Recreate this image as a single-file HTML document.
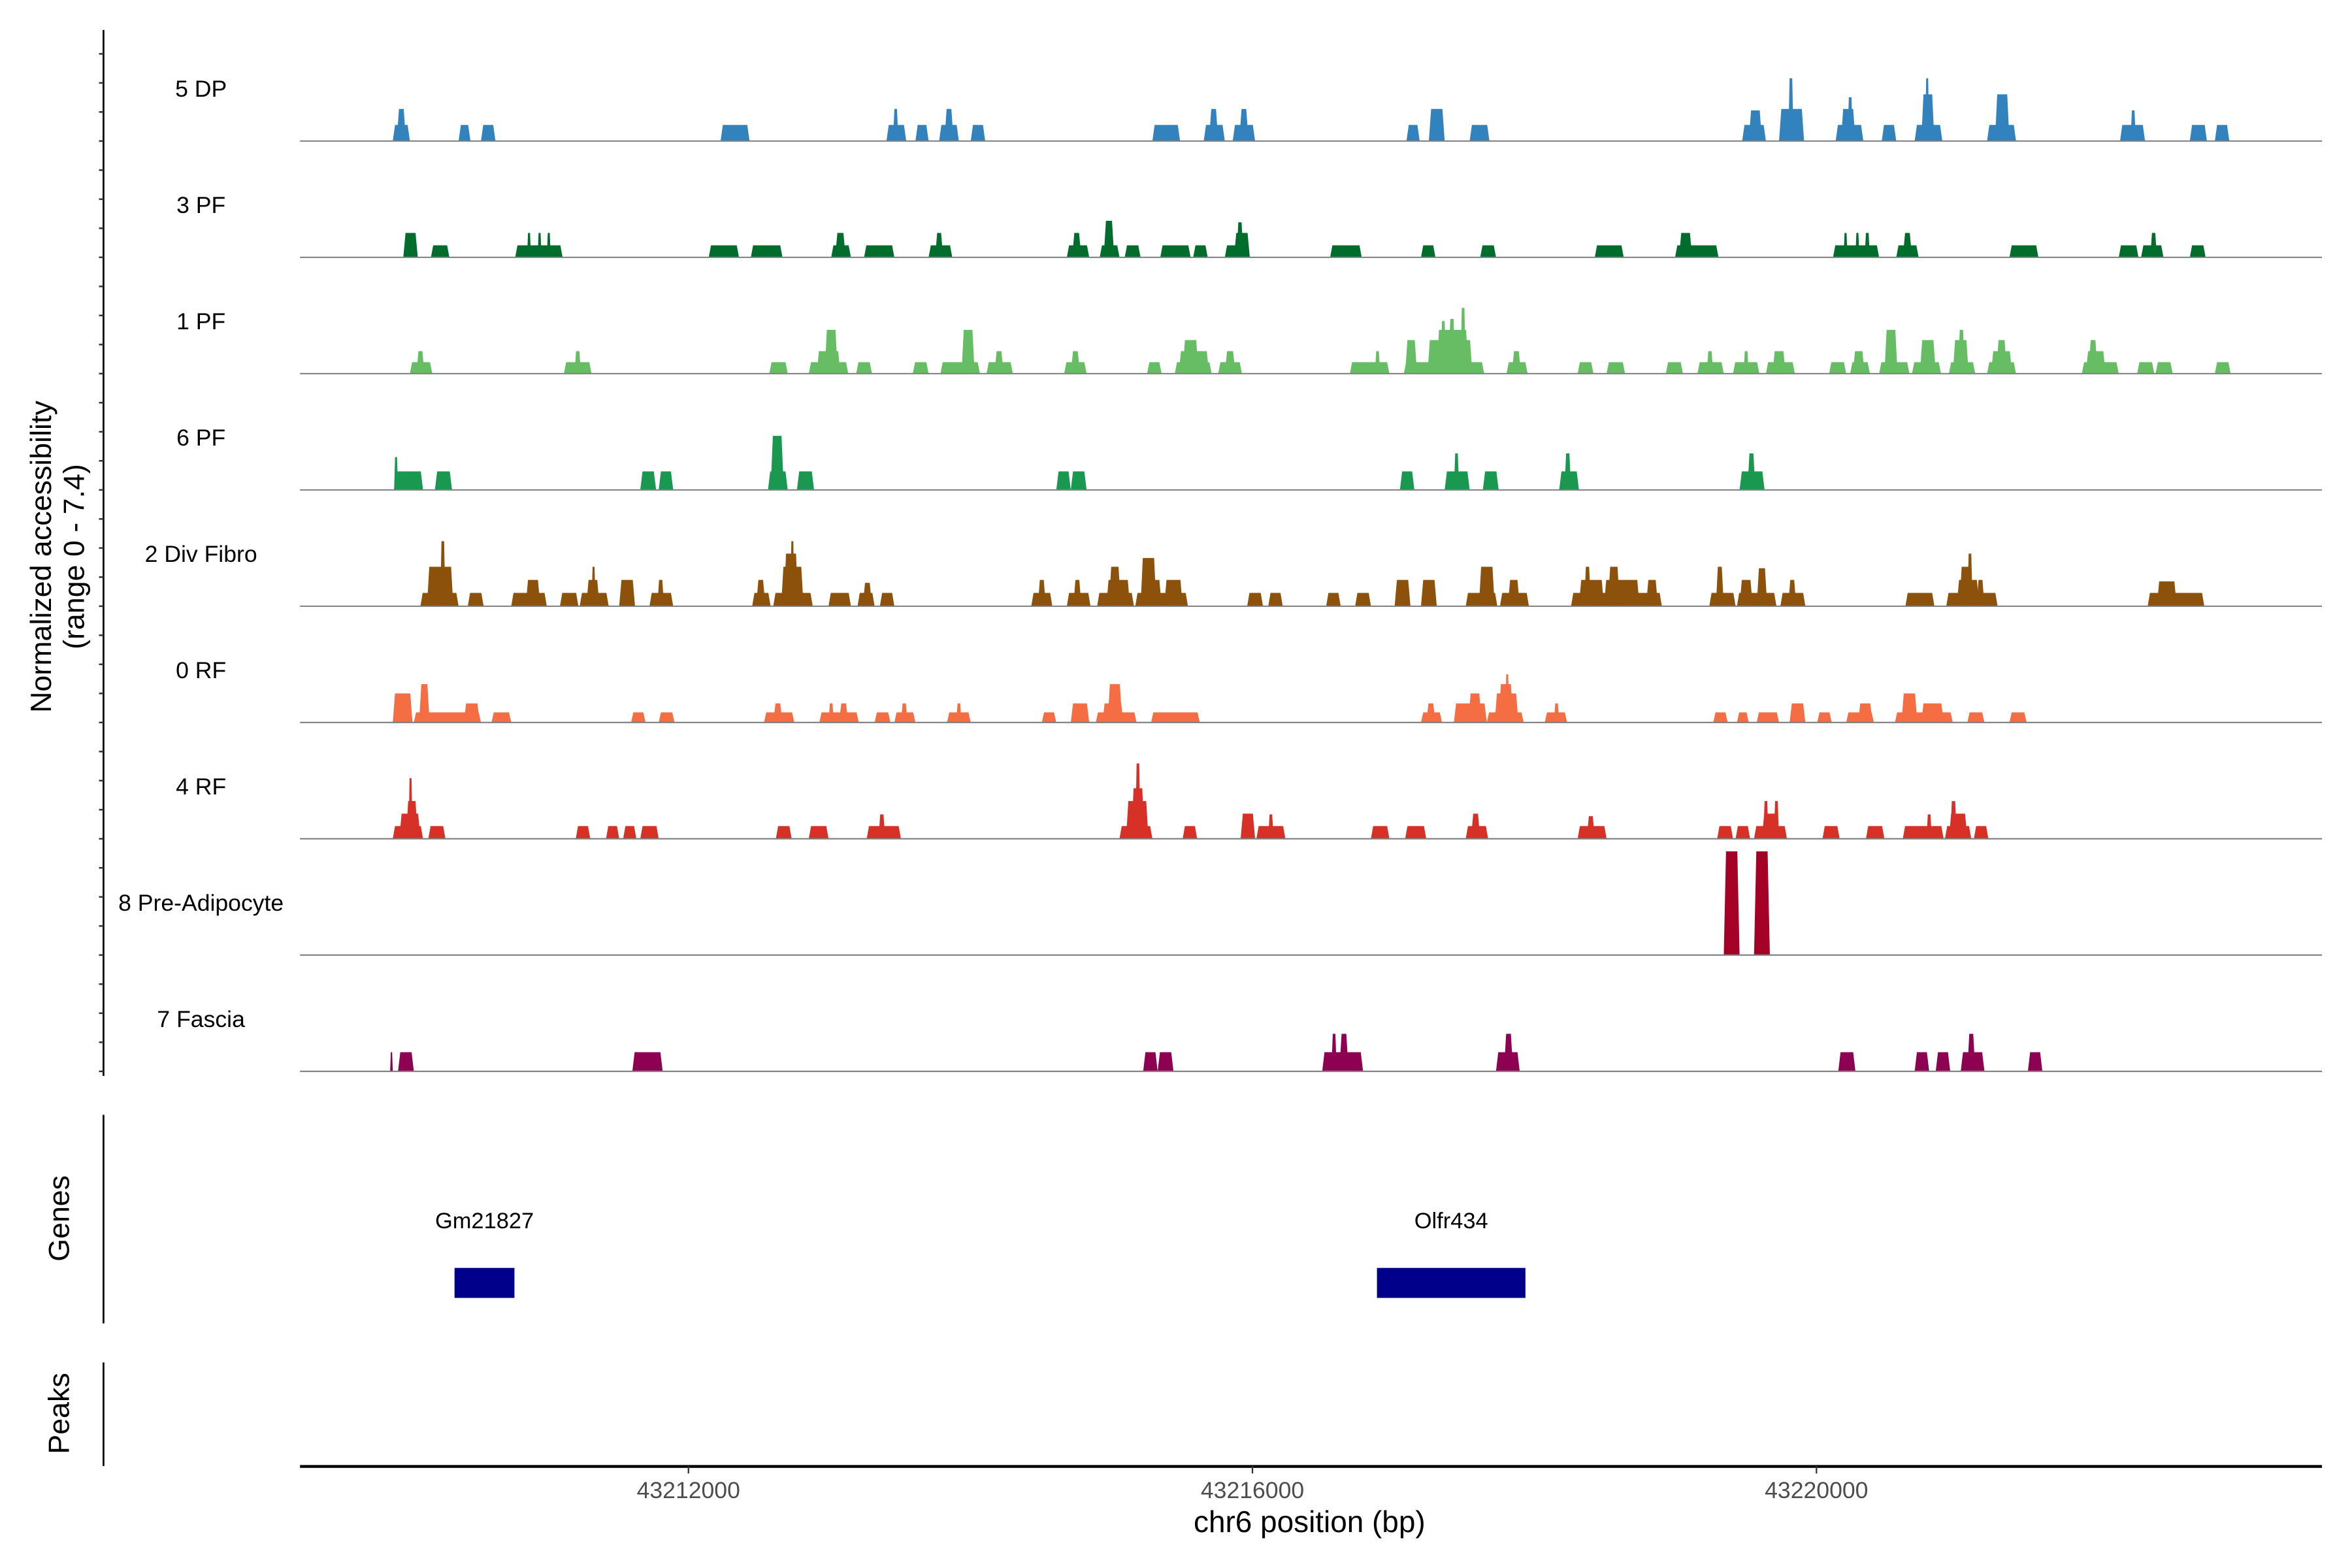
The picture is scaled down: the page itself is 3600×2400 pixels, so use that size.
<!DOCTYPE html>
<html>
<head>
<meta charset="utf-8">
<style>
html,body{margin:0;padding:0;background:#fff;}
svg{display:block;}
text{font-family:"Liberation Sans",Arial,sans-serif;}
</style>
</head>
<body>
<svg id="chart" xmlns="http://www.w3.org/2000/svg" width="3600" height="2400" viewBox="0 0 1568 1045" preserveAspectRatio="none">
  <rect x="0" y="0" width="1568" height="1045" fill="#ffffff"/>
  <g id="tracks"></g>
  <g id="yaxis">
    <line x1="69" y1="20" x2="69" y2="717" stroke="#000" stroke-width="1.2"/>
  </g>
  <text transform="translate(34,371) rotate(-90)" text-anchor="middle" font-size="19.5" fill="#000">Normalized accessibility</text>
  <text transform="translate(56,371) rotate(-90)" text-anchor="middle" font-size="19.5" fill="#000">(range 0 - 7.4)</text>

  <g>
    <line x1="69" y1="743" x2="69" y2="882" stroke="#000" stroke-width="1.2"/>
    <text transform="translate(46,812) rotate(-90)" text-anchor="middle" font-size="19.5" fill="#000">Genes</text>
    <g id="genes"></g>
  </g>
  <g>
    <line x1="69" y1="908" x2="69" y2="977" stroke="#000" stroke-width="1.2"/>
    <text transform="translate(46,942) rotate(-90)" text-anchor="middle" font-size="19.5" fill="#000">Peaks</text>
  </g>
  <g id="xaxis">
    <line x1="200" y1="977.3" x2="1548" y2="977.3" stroke="#000" stroke-width="1.9"/>
  </g>
  <text x="873" y="1021" text-anchor="middle" font-size="20" fill="#000">chr6 position (bp)</text>
</svg>
<script>
// ---- data ----
const regionStart = 43209156;   // genomic position of bin 0
const binSize = 9.337;          // bp per bin
const yMax = 7.4;               // normalized accessibility range
const trackNames = ["5 DP","3 PF","1 PF","6 PF","2 Div Fibro","0 RF","4 RF","8 Pre-Adipocyte","7 Fascia"];
const trackColors = ["#3182bd","#006d2c","#66bd63","#1a9850","#8c510a","#f46d43","#d73027","#a50026","#8e0152"];
const xTickValues = [43212000, 43216000, 43220000];
const xTickLabels = ["43212000","43216000","43220000"];
const geneNames = ["Gm21827","Olfr434"];
const geneStarts = [43210341, 43216883];
const geneEnds = [43210766, 43217936];

// coverage blocks per track: [startBin, endBin, value]
const covDP = [[80,93,1.1],[83,90,2.2],[130,139,1.1],[147,158,1.1],[329,351,1.1],[455,470,1.1],[460,464,2.2],[477,487,1.1],[495,510,1.1],[499,506,2.2],[519,530,1.1],[657,678,1.1],[696,712,1.1],[700,707,2.2],[718,735,1.1],[723,730,2.2],[850,860,1.1],[867,879,2.2],[898,913,1.1],[1105,1123,1.1],[1110,1120,2.1],[1133,1152,2.2],[1140,1144,4.3],[1176,1197,1.1],[1180,1191,2.2],[1185,1189,3.0],[1211,1222,1.1],[1236,1257,1.1],[1241,1251,3.2],[1244,1247,4.3],[1291,1313,1.1],[1297,1308,3.2],[1392,1411,1.1],[1400,1404,2.1],[1445,1458,1.1],[1464,1475,1.1]];
const covPF3 = [[88,99,1.67],[109,123,0.82],[173,209,0.82],[182,185,1.67],[190,193,1.67],[197,200,1.67],[320,343,0.82],[352,376,0.82],[413,428,0.82],[416,424,1.67],[438,461,0.82],[487,505,0.82],[492,498,1.67],[592,609,0.82],[596,603,1.67],[617,632,0.82],[620,628,2.5],[636,648,0.82],[663,686,0.82],[688,699,0.82],[712,731,0.82],[719,731,1.67],[721,726,2.4],[792,816,0.82],[861,872,0.82],[906,918,0.82],[993,1015,0.82],[1054,1087,0.82],[1057,1067,1.67],[1174,1209,0.82],[1182,1185,1.67],[1191,1194,1.67],[1198,1202,1.67],[1222,1239,0.82],[1227,1234,1.67],[1308,1330,0.82],[1391,1406,0.82],[1408,1425,0.82],[1415,1420,1.67],[1445,1457,0.82]];
const covPF1 = [[93,110,0.78],[98,104,1.54],[210,231,0.78],[218,223,1.54],[366,380,0.78],[396,426,0.78],[402,420,1.54],[408,418,3.0],[432,444,0.78],[475,487,0.78],[496,526,0.78],[512,522,3.0],[531,551,0.78],[537,544,1.54],[590,607,0.78],[595,602,1.54],[653,664,0.78],[674,702,0.78],[677,700,1.54],[680,692,2.3],[707,725,0.78],[712,720,1.54],[807,837,0.78],[826,830,1.54],[848,909,0.78],[849,858,2.3],[866,900,2.3],[873,897,3.0],[876,880,3.6],[882,887,3.75],[891,895,4.5],[926,942,0.78],[930,937,1.54],[980,992,0.78],[1002,1016,0.78],[1047,1060,0.78],[1071,1091,0.78],[1078,1083,1.54],[1098,1118,0.78],[1106,1110,1.54],[1123,1145,0.78],[1128,1138,1.54],[1171,1184,0.78],[1187,1202,0.78],[1189,1198,1.54],[1209,1232,0.78],[1213,1223,3.0],[1234,1256,0.78],[1240,1252,2.3],[1262,1282,0.78],[1265,1277,2.3],[1269,1274,3.0],[1291,1313,0.78],[1294,1310,1.54],[1298,1306,2.3],[1363,1391,0.78],[1366,1381,1.54],[1368,1375,2.3],[1405,1418,0.78],[1419,1432,0.78],[1464,1476,0.78]];
const covPF6 = [[81,103,1.27],[81,84,2.25],[112,125,1.27],[268,280,1.27],[282,293,1.27],[365,380,1.27],[367,377,3.7],[387,400,1.27],[584,595,1.27],[595,607,1.27],[845,856,1.27],[879,898,1.27],[886,890,2.5],[908,920,1.27],[966,981,1.27],[970,975,2.5],[1103,1122,1.27],[1109,1115,2.5]];
const covDiv = [[101,130,0.91],[106,126,2.7],[116,120,4.45],[137,149,0.91],[170,197,0.91],[181,192,1.8],[207,221,0.91],[222,244,0.91],[227,237,1.8],[231,234,2.7],[252,264,1.8],[275,293,0.91],[281,286,1.8],[353,367,0.91],[356,363,1.8],[369,399,0.91],[375,392,2.7],[377,388,3.6],[382,385,4.45],[411,428,0.91],[433,446,0.91],[437,444,1.6],[450,461,0.91],[565,581,0.91],[570,576,1.8],[592,610,0.91],[597,603,1.8],[615,643,0.91],[622,640,1.8],[624,633,2.7],[644,684,0.91],[648,660,3.3],[656,664,1.8],[666,680,1.8],[729,741,0.91],[745,756,0.91],[789,800,0.91],[811,823,0.91],[841,853,1.8],[861,873,1.8],[895,919,0.91],[905,917,2.7],[921,943,0.91],[927,936,1.8],[975,1044,0.91],[981,1000,1.8],[985,990,2.7],[1000,1027,1.8],[1003,1012,2.7],[1032,1041,1.8],[1080,1100,0.91],[1085,1091,2.7],[1101,1131,0.91],[1103,1113,1.8],[1116,1124,2.6],[1134,1153,0.91],[1140,1146,1.8],[1229,1251,0.91],[1260,1299,0.91],[1268,1285,1.8],[1270,1280,2.7],[1276,1280,3.6],[1283,1289,1.8],[1413,1456,0.91],[1420,1435,1.7]];
const covRF0 = [[80,95,1.99],[96,147,0.69],[100,108,2.63],[134,146,1.31],[155,170,0.69],[261,272,0.69],[282,294,0.69],[362,385,0.69],[369,376,1.31],[404,434,0.69],[411,415,1.31],[419,426,1.31],[446,458,0.69],[461,477,0.69],[466,471,1.31],[501,519,0.69],[508,512,1.31],[573,584,0.69],[595,609,1.31],[614,645,0.69],[619,635,1.31],[623,634,2.63],[656,693,0.69],[861,877,0.69],[865,872,1.31],[886,911,1.31],[897,907,1.99],[911,939,0.69],[917,935,1.99],[920,931,2.63],[925,928,3.3],[955,972,0.69],[962,966,1.31],[1083,1094,0.69],[1101,1110,0.69],[1116,1133,0.69],[1141,1153,1.31],[1162,1173,0.69],[1184,1205,0.69],[1193,1204,1.31],[1221,1265,0.69],[1226,1238,1.99],[1241,1258,1.31],[1276,1289,0.69],[1308,1321,0.69]];
const covRF4 = [[80,103,0.87],[85,101,1.72],[90,99,2.58],[92,95,4.15],[107,120,0.87],[219,230,0.87],[242,252,0.87],[255,265,0.87],[268,282,0.87],[371,383,0.87],[396,411,0.87],[440,466,0.87],[449,454,1.67],[632,657,0.87],[637,654,2.58],[641,651,3.46],[644,648,5.16],[680,691,0.87],[724,735,1.72],[736,758,0.87],[745,749,1.67],[823,837,0.87],[849,865,0.87],[895,912,0.87],[899,906,1.72],[980,1002,0.87],[987,993,1.55],[1086,1098,0.87],[1100,1111,0.87],[1114,1139,0.87],[1120,1133,1.72],[1121,1125,2.58],[1129,1133,2.58],[1166,1179,0.87],[1199,1213,0.87],[1227,1258,0.87],[1245,1249,1.67],[1259,1279,0.87],[1262,1276,1.72],[1263,1268,2.58],[1281,1292,0.87]];
const covPre = [[1091,1103,7.1],[1114,1126,7.1]];
const covFas = [[78,80,1.31],[84,96,1.31],[262,285,1.31],[650,661,1.31],[661,673,1.31],[786,817,1.31],[793,797,2.57],[799,806,2.57],[918,936,1.31],[924,931,2.57],[1178,1191,1.31],[1236,1247,1.31],[1252,1263,1.31],[1271,1289,1.31],[1276,1282,2.57],[1322,1333,1.31]];
const trackData = [covDP, covPF3, covPF1, covPF6, covDiv, covRF0, covRF4, covPre, covFas];

// ---- scales ----
const plotLeft = 200, plotRight = 1548;
const domainLeft = 43209245, pxPerBp = 0.094;
function xScale(bp){ return plotLeft + (bp - domainLeft) * pxPerBp; }
function binToBp(b){ return regionStart + b * binSize; }
const firstBaseline = 94, trackStep = 77.5, trackHeight = 72;
function yScale(v, i){ return (firstBaseline + i*trackStep) - v / yMax * trackHeight; }

const NS = "http://www.w3.org/2000/svg";
function mk(tag, parent){ const e = document.createElementNS(NS, tag); parent.appendChild(e); return e; }

const tracksG = document.getElementById("tracks");
trackNames.forEach(function(name, i){
  const g = mk("g", tracksG);
  
  
  const base = yScale(0, i);
  const lbl = mk("text", g);
  lbl.setAttribute("x", 134);
  lbl.setAttribute("y", base - 29.5);
  lbl.setAttribute("text-anchor", "middle");
  lbl.setAttribute("font-size", "15.5");
  lbl.setAttribute("fill", "#000");
  lbl.textContent = name;
  
  
  trackData[i].forEach(function(b){
    const xs = xScale(binToBp(b[0])), xe = xScale(binToBp(b[1]));
    const top = yScale(b[2], i);
    const inset = Math.min((xe - xs) * 0.25, 1.5);
    const p = mk("polygon", g);
    p.setAttribute("points", xs+","+base+" "+(xs+inset)+","+top+" "+(xe-inset)+","+top+" "+xe+","+base);
    p.setAttribute("fill", trackColors[i]);
    
    
  });
  const bl = mk("line", g);
  bl.setAttribute("x1", plotLeft); bl.setAttribute("x2", plotRight);
  bl.setAttribute("y1", base); bl.setAttribute("y2", base);
  bl.setAttribute("stroke", "#7f7f7f"); bl.setAttribute("stroke-width", "0.9");
  
  
});

// y axis ticks (quarter-track spacing)
const yAxisG = document.getElementById("yaxis");
for (let k = 0; k <= 35; k++) {
  const y = firstBaseline - 3 * trackStep / 4 + k * trackStep / 4;
  const t = mk("line", yAxisG);
  t.setAttribute("x1", 66); t.setAttribute("x2", 69);
  t.setAttribute("y1", y); t.setAttribute("y2", y);
  t.setAttribute("stroke", "#333"); t.setAttribute("stroke-width", "1.1");
  
  
}

// x axis ticks
const xAxisG = document.getElementById("xaxis");
xTickValues.forEach(function(v, i){
  const x = xScale(v);
  const t = mk("line", xAxisG);
  t.setAttribute("x1", x); t.setAttribute("x2", x);
  t.setAttribute("y1", 977); t.setAttribute("y2", 982);
  t.setAttribute("stroke", "#333"); t.setAttribute("stroke-width", "1");
  
  
  const l = mk("text", xAxisG);
  l.setAttribute("x", x); l.setAttribute("y", 998.5);
  l.setAttribute("text-anchor", "middle");
  l.setAttribute("font-size", "15.5");
  l.setAttribute("fill", "#4d4d4d");
  l.textContent = xTickLabels[i];
  
  
});

// genes
const genesG = document.getElementById("genes");
geneNames.forEach(function(name, i){
  const xs = xScale(geneStarts[i]), xe = xScale(geneEnds[i]);
  const r = mk("rect", genesG);
  r.setAttribute("x", xs); r.setAttribute("y", 845);
  r.setAttribute("width", xe - xs); r.setAttribute("height", 20);
  r.setAttribute("fill", "#00008b");
  
  
  const t = mk("text", genesG);
  t.setAttribute("x", (xs + xe) / 2); t.setAttribute("y", 818.5);
  t.setAttribute("text-anchor", "middle");
  t.setAttribute("font-size", "15");
  t.setAttribute("fill", "#000");
  t.textContent = name;
  
  
});
</script>
</body>
</html>
